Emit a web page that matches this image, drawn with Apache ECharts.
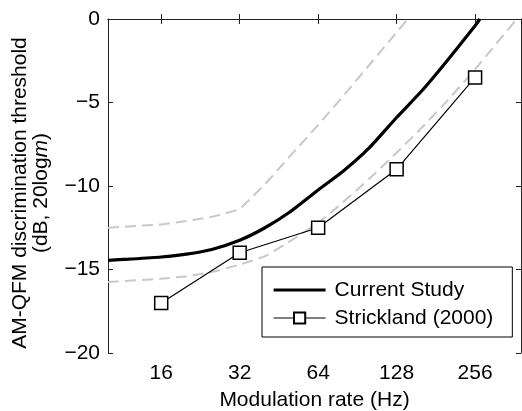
<!DOCTYPE html>
<html lang="en">
<head>
  <meta charset="UTF-8">
  <title>AM-QFM discrimination threshold</title>
  <script src="https://cdn.jsdelivr.net/npm/echarts@6/dist/echarts.min.js"></script>
  <style>
    html, body { margin: 0; padding: 0; background: #fff; }
  </style>
</head>
<body>
<div id="main" style="width: 522px;height:411px;"></div>
<script>
  // values
  var xTicks = [16, 32, 64, 128, 256];
  var yTicks = [-20, -15, -10, -5, 0];

  var curveFreq = [10, 12, 16, 20, 25, 32, 40, 50, 64, 80, 100, 128, 160, 200, 256, 267];
  var currentStudy = [-14.45, -14.38, -14.25, -14.08, -13.8, -13.25, -12.5, -11.54, -10.24, -9.1, -7.75, -5.9, -4.3, -2.5, -0.4, 0];

  var upperFreq = [10, 16, 20, 25, 32, 40, 50, 64, 80, 100, 128, 141];
  var upperBound = [-12.5, -12.3, -12.1, -11.85, -11.4, -9.9, -8.2, -6.35, -4.6, -2.8, -0.8, 0];

  var lowerFreq = [10, 16, 20, 25, 32, 40, 50, 64, 80, 100, 128, 160, 200, 256, 370];
  var lowerBound = [-15.75, -15.55, -15.4, -15.15, -14.7, -14.2, -13.3, -12.2, -10.95, -9.6, -8.0, -6.5, -4.9, -3.0, 0];

  var stricklandFreq = [16, 32, 64, 128, 256];
  var strickland = [-17, -14, -12.5, -9, -3.5];

  function pairs(xs, ys) {
    return xs.map(function (x, i) { return [x, ys[i]]; });
  }

  var font = 'Liberation Sans, Arial, sans-serif';
  var lineCol = '#222';

  var chart = echarts.init(document.getElementById('main'), null, {renderer: 'canvas'});

  function xAxisBase(pos, show) {
    return {
      type: 'log',
      logBase: 2,
      position: pos,
      min: 10,
      max: 384,
      axisLine: {show: true, lineStyle: {color: lineCol, width: 1}},
      axisTick: {show: true, inside: true, length: 5, customValues: xTicks, lineStyle: {color: lineCol}},
      axisLabel: {
        show: show,
        customValues: xTicks,
        margin: 10,
        color: '#000',
        fontSize: 21,
        fontFamily: font,
        formatter: function (v) { return String(Math.round(v)); }
      },
      splitLine: {show: false},
      minorTick: {show: false}
    };
  }

  function yAxisBase(pos, show) {
    return {
      type: 'value',
      position: pos,
      min: -20,
      max: 0,
      interval: 5,
      axisLine: {show: true, lineStyle: {color: lineCol, width: 1}},
      axisTick: {show: true, inside: true, length: 5, lineStyle: {color: lineCol}},
      axisLabel: {
        show: show,
        margin: 8,
        color: '#000',
        fontSize: 21,
        fontFamily: font,
        formatter: function (v) { return String(v).replace('-', '\u2212'); }
      },
      splitLine: {show: false}
    };
  }

  var xBottom = xAxisBase('bottom', true);
  xBottom.name = 'Modulation rate (Hz)';
  xBottom.nameLocation = 'middle';
  xBottom.nameGap = 37;
  xBottom.nameTextStyle = {color: '#000', fontSize: 21, fontFamily: font};

  var yLeft = yAxisBase('left', true);
  yLeft.name = '{a|AM-QFM discrimination threshold}\n{a|(dB, 20log}{b|m}{a|)}';
  yLeft.nameLocation = 'middle';
  yLeft.nameRotate = 90;
  yLeft.nameGap = 56;
  yLeft.nameTextStyle = {
    color: '#000',
    fontSize: 21,
    fontFamily: font,
    padding: [0, 14, 0, 0],
    rich: {
      a: {fontSize: 21, fontFamily: font, color: '#000', lineHeight: 21},
      b: {fontSize: 21, fontFamily: font, color: '#000', lineHeight: 21, fontStyle: 'italic'}
    }
  };

  var option = {
    animation: false,
    backgroundColor: '#fff',
    grid: {left: 108, right: 1, top: 19, bottom: 58, containLabel: false, outerBoundsMode: 'none'},
    legend: {
      data: [
        {name: 'Current Study', itemStyle: {opacity: 0}, lineStyle: {width: 3.2, color: '#000'}},
        {name: 'Strickland (2000)', lineStyle: {width: 1.2, color: '#000'}}
      ],
      orient: 'vertical',
      left: 262,
      top: 267,
      padding: [11, 19, 7, 10],
      itemGap: 4,
      itemWidth: 52,
      itemHeight: 14,
      backgroundColor: '#fff',
      borderColor: '#000',
      borderWidth: 1,
      borderRadius: 0,
      textStyle: {color: '#000', fontSize: 21, fontFamily: font, lineHeight: 24, padding: [0, 0, 0, 4]}
    },
    xAxis: [xBottom, xAxisBase('top', false)],
    yAxis: [yLeft, yAxisBase('right', false)],
    series: [
      {
        name: 'upper',
        type: 'line',
        data: pairs(upperFreq, upperBound),
        symbol: 'none',
        smooth: false,
        lineStyle: {color: '#c8c8c8', width: 2, type: [11, 6]},
        z: 1
      },
      {
        name: 'lower',
        type: 'line',
        data: pairs(lowerFreq, lowerBound),
        symbol: 'none',
        smooth: 0.2,
        lineStyle: {color: '#c8c8c8', width: 2, type: [11, 6]},
        z: 1
      },
      {
        name: 'Current Study',
        type: 'line',
        data: pairs(curveFreq, currentStudy),
        symbol: 'none',
        smooth: 0.2,
        itemStyle: {color: '#000'},
        lineStyle: {color: '#000', width: 3.2},
        z: 2
      },
      {
        name: 'Strickland (2000)',
        type: 'line',
        data: pairs(stricklandFreq, strickland),
        symbol: 'rect',
        symbolSize: 13,
        itemStyle: {color: '#fff', borderColor: '#000', borderWidth: 1.5},
        lineStyle: {color: '#000', width: 1.2},
        z: 3
      }
    ]
  };

  chart.setOption(option);
</script>
</body>
</html>
